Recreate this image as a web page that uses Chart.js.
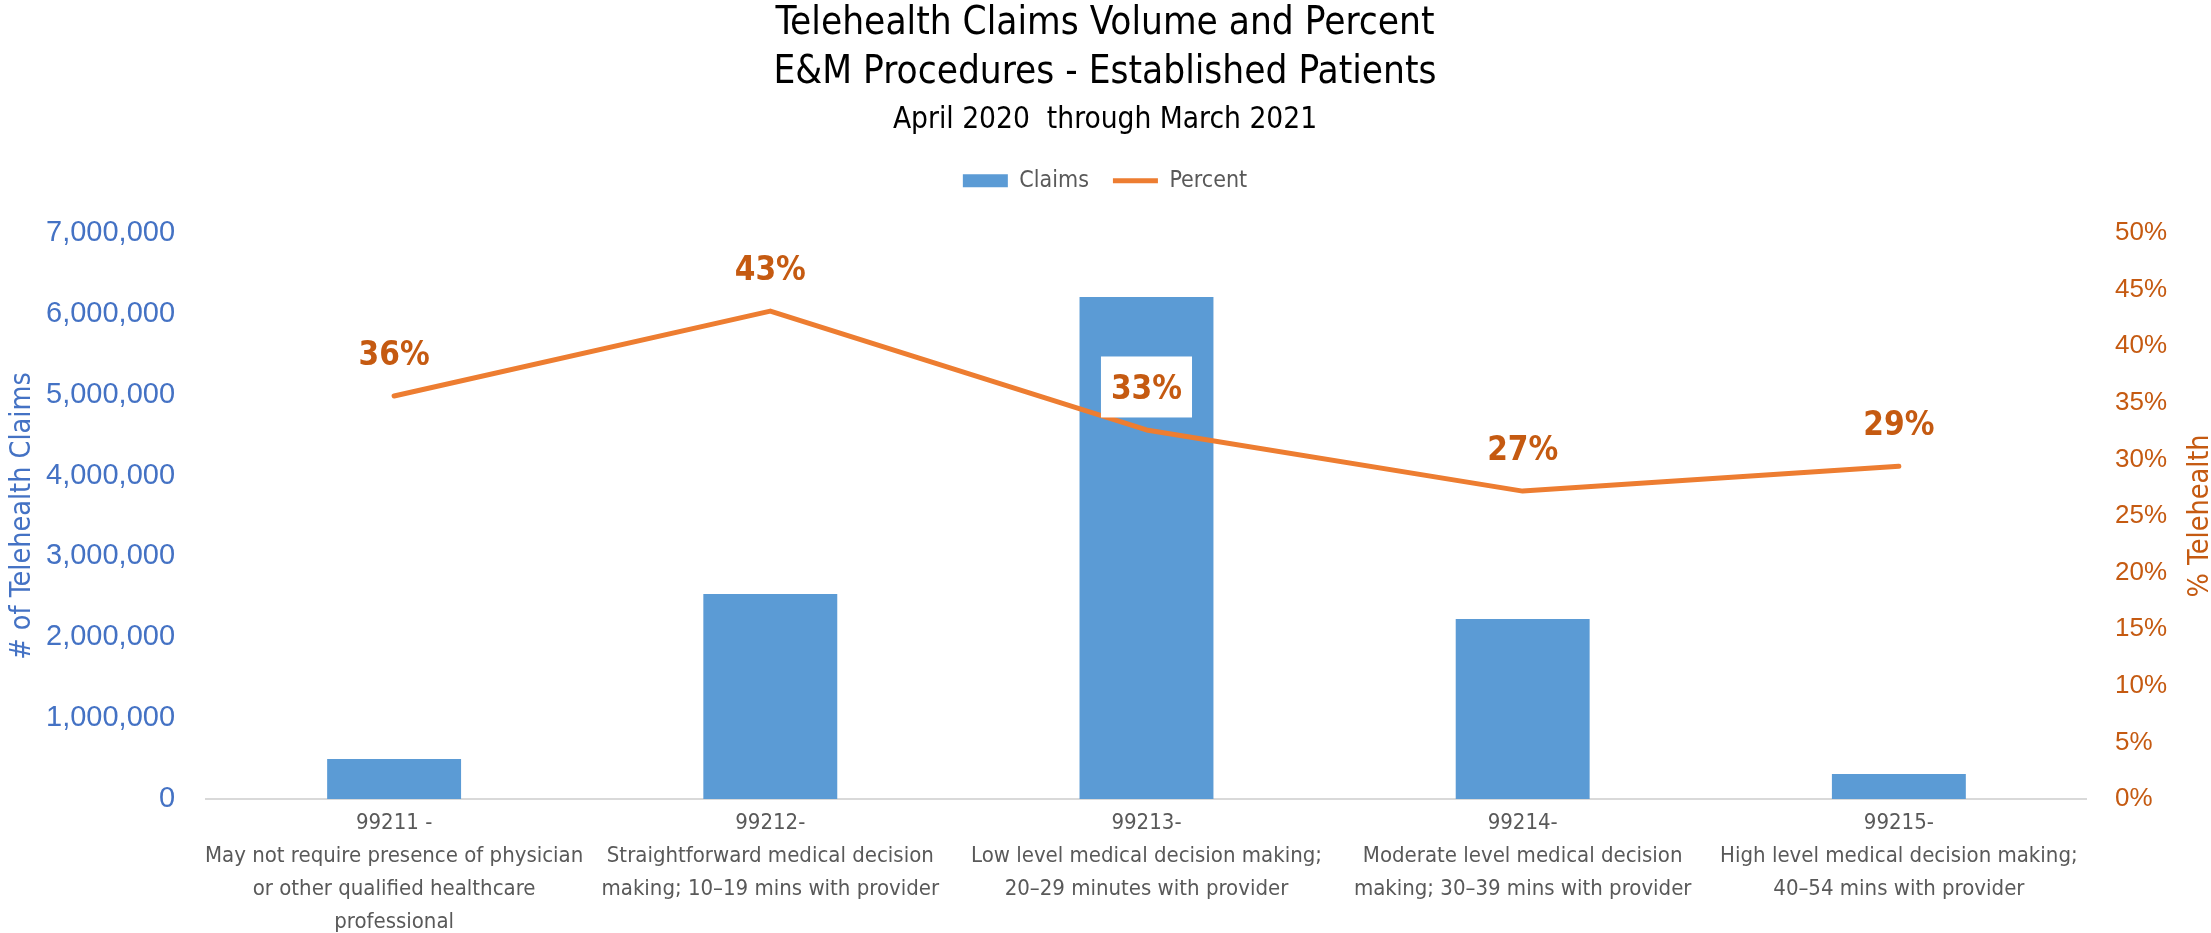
<!DOCTYPE html>
<html>
<head>
<meta charset="utf-8">
<title>Telehealth Claims Volume and Percent</title>
<script src="https://cdn.jsdelivr.net/npm/chart.js@4.4.1/dist/chart.umd.min.js"></script>
<style>
  html, body { margin: 0; padding: 0; background: #ffffff; }
  #wrap { width: 2211px; height: 933px; position: relative; }
  canvas { display: block; }
</style>
</head>
<body>
<div id="wrap"><canvas id="chart" width="2211" height="933"></canvas></div>
<script>
// ---- chart data ----
const titleLines = ['Telehealth Claims Volume and Percent', 'E&M Procedures - Established Patients'];
const subtitleText = 'April 2020  through March 2021';
const leftAxisLabel = '# of Telehealth Claims';
const rightAxisLabel = '% Telehealth';

const categories = [
  ['99211 -', 'May not require presence of physician', 'or other qualified healthcare', 'professional'],
  ['99212-', 'Straightforward medical decision', 'making; 10\u201319 mins with provider'],
  ['99213-', 'Low level medical decision making;', '20\u201329 minutes with provider'],
  ['99214-', 'Moderate level medical decision', 'making; 30\u201339 mins with provider'],
  ['99215-', 'High level medical decision making;', '40\u201354 mins with provider']
];
const claims = [495000, 2535000, 6210000, 2225000, 310000];
const percentTelehealth = [0.356, 0.431, 0.326, 0.272, 0.294];

const claimTicks = [0, 1000000, 2000000, 3000000, 4000000, 5000000, 6000000, 7000000];
const percentTicks = [0, 0.05, 0.10, 0.15, 0.20, 0.25, 0.30, 0.35, 0.40, 0.45, 0.50];

// ---- look ----
const TEXT_FONT = "'DejaVu Sans Condensed', 'DejaVu Sans', sans-serif";
const TICK_FONT = "'Liberation Sans', Arial, sans-serif";
const BLUE = '#5B9BD5';
const ORANGE = '#ED7D31';
const BLUE_TEXT = '#4472C4';
const ORANGE_TEXT = '#C55A11';
const GREY_TEXT = '#595959';

Chart.defaults.font.family = TEXT_FONT;

const fmtClaims = v => Math.round(v).toString().replace(/\B(?=(\d{3})+(?!\d))/g, ',');
const fmtPercent = v => Math.round(v * 100) + '%';

// Extra room under the legend before the plot starts
const legendGap = {
  id: 'legendGap',
  beforeLayout(chart, args, opts) {
    const lg = chart.legend;
    if (lg && !lg.__gapAdded) {
      const fit = lg.fit;
      lg.fit = function () { fit.call(this); this.height += opts.gap; };
      lg.__gapAdded = true;
    }
  }
};

// Vertical axis titles, both reading bottom to top
const axisTitles = {
  id: 'axisTitles',
  afterDraw(chart, args, opts) {
    const ctx = chart.ctx;
    const cy = (chart.chartArea.top + chart.chartArea.bottom) / 2;
    const draw = (text, x, color) => {
      ctx.save();
      ctx.translate(x, cy);
      ctx.rotate(-Math.PI / 2);
      ctx.font = opts.size + 'px ' + TEXT_FONT;
      ctx.fillStyle = color;
      ctx.textAlign = 'center';
      ctx.textBaseline = 'alphabetic';
      ctx.fillText(text, 0, 0);
      ctx.restore();
    };
    draw(leftAxisLabel, opts.leftBaseline, BLUE_TEXT);
    draw(rightAxisLabel, chart.width - opts.rightInset, ORANGE_TEXT);
  }
};

// Percent labels above each point of the line; a white plate where a label sits on a bar
const pointLabels = {
  id: 'pointLabels',
  afterDatasetsDraw(chart, args, opts) {
    const lineIdx = chart.data.datasets.findIndex(d => d.type === 'line');
    const barIdx = chart.data.datasets.findIndex(d => d.type === 'bar');
    const lineMeta = chart.getDatasetMeta(lineIdx);
    const barMeta = chart.getDatasetMeta(barIdx);
    const values = chart.data.datasets[lineIdx].data;
    const ctx = chart.ctx;
    ctx.save();
    ctx.font = 'bold ' + opts.size + 'px ' + TEXT_FONT;
    ctx.textAlign = 'center';
    ctx.textBaseline = 'alphabetic';
    lineMeta.data.forEach((pt, i) => {
      const text = fmtPercent(values[i]);
      const cx = pt.x;
      const cy = pt.y - opts.lift;
      const w = ctx.measureText(text).width + opts.padX * 2;
      const h = opts.boxHeight;
      const bar = barMeta.data[i];
      const onBar = bar && (cx + w / 2 > bar.x - bar.width / 2) && (cx - w / 2 < bar.x + bar.width / 2)
        && (cy + h / 2 > Math.min(bar.y, bar.base));
      if (onBar) {
        ctx.fillStyle = '#ffffff';
        ctx.fillRect(cx - w / 2, cy - h / 2, w, h);
      }
      ctx.fillStyle = opts.color;
      ctx.fillText(text, cx, cy + opts.size * 0.364);
    });
    ctx.restore();
  }
};

new Chart(document.getElementById('chart'), {
  type: 'bar',
  data: {
    labels: categories,
    datasets: [
      {
        type: 'bar',
        label: 'Claims',
        data: claims,
        backgroundColor: BLUE,
        borderWidth: 0,
        yAxisID: 'y',
        barPercentage: 0.356,
        categoryPercentage: 1,
        pointStyle: 'rect',
        order: 2
      },
      {
        type: 'line',
        label: 'Percent',
        data: percentTelehealth,
        borderColor: ORANGE,
        backgroundColor: ORANGE,
        borderWidth: 5,
        borderCapStyle: 'round',
        borderJoinStyle: 'round',
        pointRadius: 0,
        pointHoverRadius: 0,
        pointStyle: 'line',
        tension: 0,
        yAxisID: 'y1',
        order: 1
      }
    ]
  },
  options: {
    responsive: false,
    animation: false,
    devicePixelRatio: 1,
    events: [],
    layout: { padding: { left: 15, right: 16, top: 0, bottom: -14 } },
    plugins: {
      title: {
        display: true,
        text: titleLines,
        color: '#000000',
        font: { family: TEXT_FONT, size: 38.4, weight: 'normal', lineHeight: 1.276 },
        padding: { top: -0.5, bottom: 0 }
      },
      subtitle: {
        display: true,
        text: subtitleText,
        color: '#000000',
        font: { family: TEXT_FONT, size: 29.6, weight: 'normal', lineHeight: 1.2 },
        padding: { top: 4.9, bottom: 7.3 }
      },
      legend: {
        display: true,
        position: 'top',
        labels: {
          usePointStyle: true,
          pointStyleWidth: 45,
          boxHeight: 13,
          padding: 24,
          color: GREY_TEXT,
          font: { family: TEXT_FONT, size: 23 },
          sort: (a, b) => a.datasetIndex - b.datasetIndex
        }
      },
      tooltip: { enabled: false },
      legendGap: { gap: 30.8 },
      axisTitles: { size: 28.5, leftBaseline: 30, rightInset: 3 },
      pointLabels: { size: 33, color: ORANGE_TEXT, lift: 43, padX: 10, boxHeight: 61 }
    },
    scales: {
      x: {
        grid: { display: false, drawTicks: false },
        border: { display: true, color: '#D9D9D9', width: 2 },
        ticks: {
          color: GREY_TEXT,
          font: { family: TEXT_FONT, size: 22, lineHeight: 1.5 },
          padding: 8,
          autoSkip: false,
          maxRotation: 0,
          minRotation: 0
        }
      },
      y: {
        position: 'left',
        min: 0,
        max: 7000000,
        afterBuildTicks: s => { s.ticks = claimTicks.map(v => ({ value: v })); },
        grid: { display: false, drawTicks: false },
        border: { display: false },
        ticks: {
          color: BLUE_TEXT,
          font: { family: TICK_FONT, size: 29 },
          padding: 31,
          callback: v => fmtClaims(v)
        }
      },
      y1: {
        position: 'right',
        min: 0,
        max: 0.5,
        afterBuildTicks: s => { s.ticks = percentTicks.map(v => ({ value: v })); },
        grid: { display: false, drawTicks: false },
        border: { display: false },
        ticks: {
          color: ORANGE_TEXT,
          font: { family: TICK_FONT, size: 26 },
          padding: 28,
          callback: v => fmtPercent(v)
        }
      }
    }
  },
  plugins: [legendGap, axisTitles, pointLabels]
});
</script>
</body>
</html>
